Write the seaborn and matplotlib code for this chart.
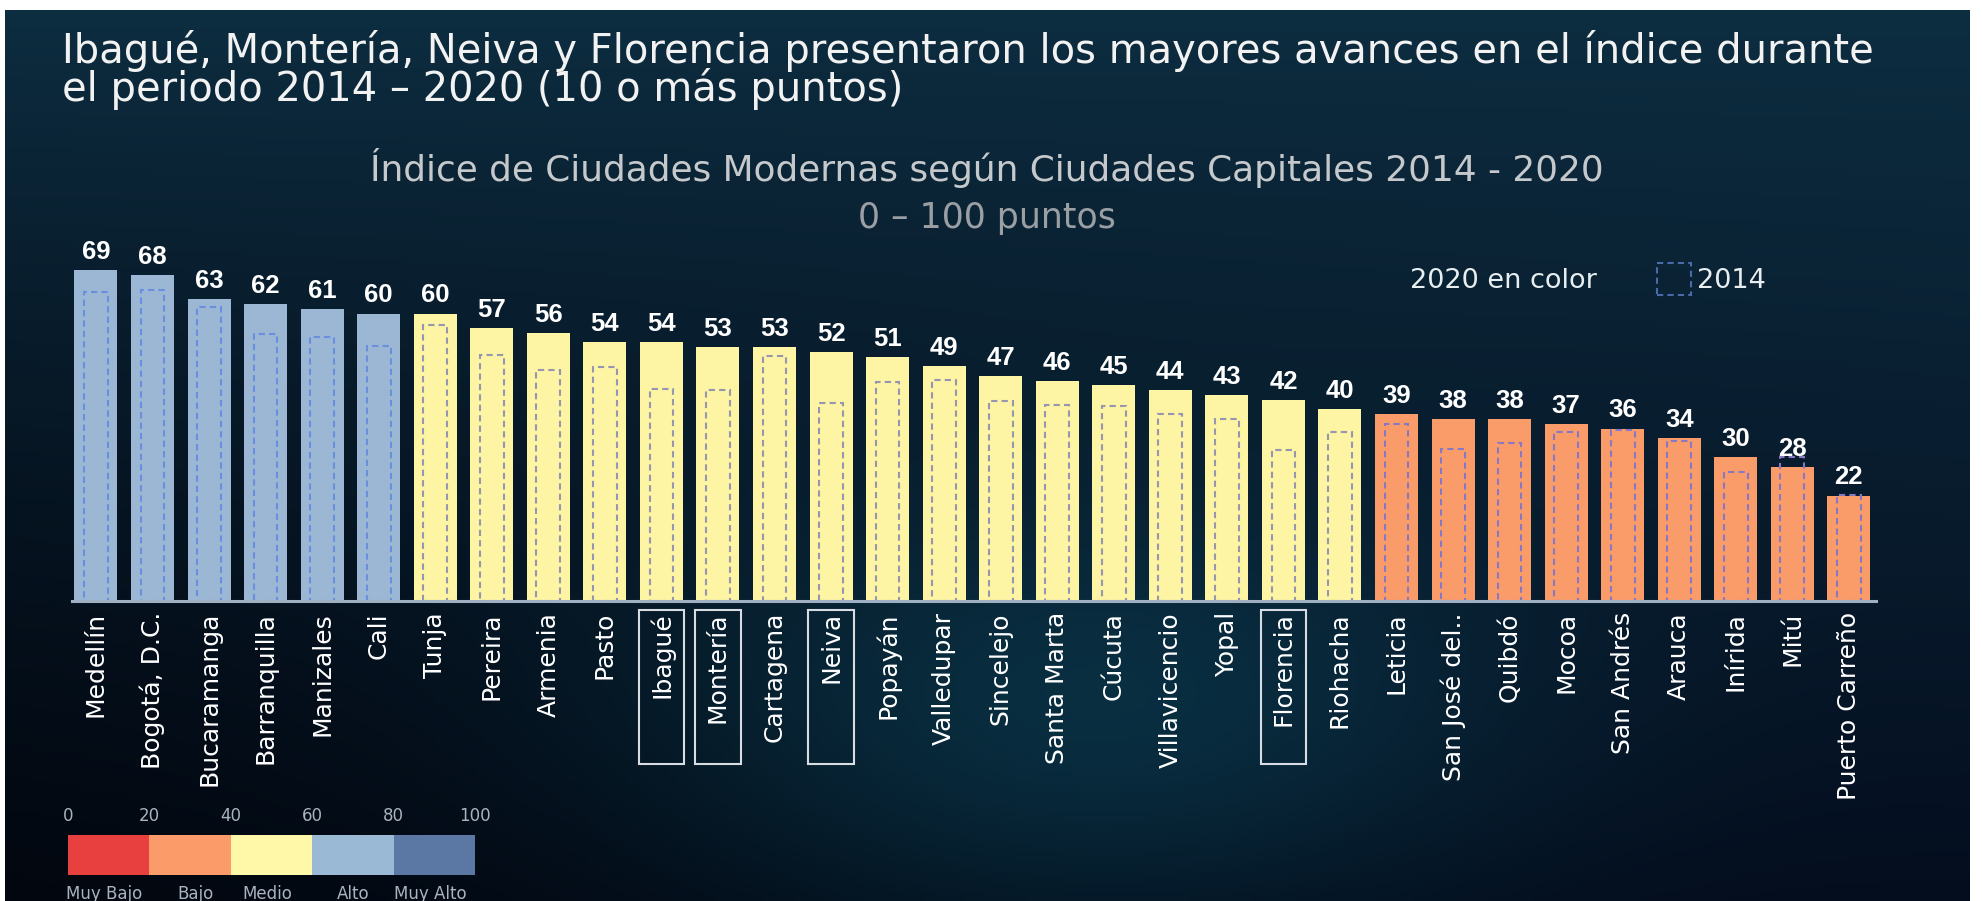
import numpy as np
import pandas as pd
import seaborn as sns
import matplotlib.pyplot as plt
from matplotlib.patches import Rectangle

# -------- data --------
cities = ['Medellín', 'Bogotá, D.C.', 'Bucaramanga', 'Barranquilla', 'Manizales', 'Cali',
          'Tunja', 'Pereira', 'Armenia', 'Pasto', 'Ibagué', 'Montería', 'Cartagena', 'Neiva',
          'Popayán', 'Valledupar', 'Sincelejo', 'Santa Marta', 'Cúcuta', 'Villavicencio',
          'Yopal', 'Florencia', 'Riohacha', 'Leticia', 'San José del..', 'Quibdó', 'Mocoa',
          'San Andrés', 'Arauca', 'Inírida', 'Mitú', 'Puerto Carreño']
v2020 = [69, 68, 63, 62, 61, 60, 60, 57, 56, 54, 54, 53, 53, 52, 51, 49, 47, 46, 45, 44,
         43, 42, 40, 39, 38, 38, 37, 36, 34, 30, 28, 22]
v2014 = [64.6, 65, 61.3, 55.8, 55.2, 53.3, 57.6, 51.4, 48.2, 48.9, 44.3, 44, 51.2, 41.3,
         45.7, 46.1, 41.7, 40.9, 40.6, 39, 38, 31.6, 35.3, 36.9, 31.7, 32.9, 35.3, 35.7,
         33.5, 27, 30.1, 22.2]
nivel = ['Alto'] * 6 + ['Medio'] * 17 + ['Bajo'] * 9
destacadas = ['Ibagué', 'Montería', 'Neiva', 'Florencia']

escala_limites = [0, 20, 40, 60, 80, 100]
escala_nombres = ['Muy Bajo', 'Bajo', 'Medio', 'Alto', 'Muy Alto']
escala_colores = ['#e8403f', '#fb9b69', '#fff8a8', '#9ab9d5', '#5b77a3']

df = pd.DataFrame({'ciudad': cities, 'v2020': v2020, 'v2014': v2014, 'nivel': nivel})

# -------- figure + background --------
W, H = 1983, 901
fig = plt.figure(figsize=(W / 100, H / 100), dpi=100, facecolor='white')

bg = fig.add_axes([5 / W, 0, 1965 / W, 891 / H])
yy, xx = np.mgrid[0:1:200j, 0:1:440j]
top = np.array([13, 45, 64]) / 255
bot = np.array([4, 13, 30]) / 255
img = top * (1 - yy)[..., None] + bot * yy[..., None]
img *= (1 - 0.5 * (1 - xx) * yy)[..., None]
glow = np.exp(-((xx - 0.55) ** 2 / 0.05 + (yy - 0.8) ** 2 / 0.06))
img += np.array([4, 30, 34])[None, None, :] / 255 * glow[..., None]
bg.imshow(np.clip(img, 0, 1), aspect='auto', extent=[0, 1, 0, 1])
bg.axis('off')

# -------- main bars --------
ax = fig.add_axes([72 / W, 300 / H, 1804 / W, 359.3 / H])
ax.set_facecolor('none')

pal = {'Alto': '#9cb7d4', 'Medio': '#fdf4a4', 'Bajo': '#f99c6a'}
sns.barplot(data=df, x='ciudad', y='v2020', hue='nivel', palette=pal, width=0.76,
            dodge=False, legend=False, saturation=1, errorbar=None, ax=ax)

# 2014 values as dashed outlines
pal_dash = {'Alto': '#6a8ee0', 'Medio': '#9696b0', 'Bajo': '#8878c4'}
sns.barplot(data=df, x='ciudad', y='v2014', hue='nivel', palette=pal_dash, width=0.42,
            dodge=False, legend=False, fill=False, saturation=1, errorbar=None,
            linestyle=(0, (3, 2)), linewidth=1.5, ax=ax)

for i, v in enumerate(v2020):
    ax.annotate(f'{v}', (i, v), xytext=(0, 8), textcoords='offset points',
                ha='center', va='baseline', color='white', fontsize=18.5,
                fontweight='bold', family='Liberation Sans')

ax.set_xlim(-0.424, 31.48)
ax.set_ylim(0, 75)
ax.set_xlabel('')
ax.set_ylabel('')
ax.set_yticks([])
for s in ['top', 'right', 'left']:
    ax.spines[s].set_visible(False)
ax.spines['bottom'].set_color('#9fb0c2')
ax.spines['bottom'].set_linewidth(2.2)
ax.tick_params(axis='x', length=0, pad=8, labelcolor='white', labelsize=18, rotation=90)
for lab in ax.get_xticklabels():
    lab.set_family('DejaVu Sans')

for i, c in enumerate(cities):
    if c in destacadas:
        ax.add_patch(Rectangle((i - 0.405, -1.9), 0.81, -32.2, fill=False,
                               edgecolor='#d8dde3', linewidth=1.5, clip_on=False))

# -------- titles --------
fig.text(62 / W, 1 - 63 / H,
         'Ibagué, Montería, Neiva y Florencia presentaron los mayores avances en el índice durante',
         color='#f2f2f2', fontsize=28.8, family='DejaVu Sans', va='baseline')
fig.text(62 / W, 1 - 101 / H, 'el periodo 2014 – 2020 (10 o más puntos)',
         color='#f2f2f2', fontsize=28.8, family='DejaVu Sans', va='baseline')
fig.text(987 / W, 1 - 181 / H,
         'Índice de Ciudades Modernas según Ciudades Capitales 2014 - 2020',
         color='#c6c9cc', fontsize=25.8, family='DejaVu Sans', ha='center', va='baseline')
fig.text(987 / W, 1 - 228 / H, '0 – 100 puntos', color='#9a9fa4', fontsize=25,
         family='DejaVu Sans', ha='center', va='baseline')

# legend top right
fig.text(1410 / W, 1 - 288 / H, '2020 en color', color='#e8eef0', fontsize=19.5,
         family='DejaVu Sans', va='baseline')
fig.patches.append(Rectangle((1657 / W, 1 - 295 / H), 34 / W, 32 / H, fill=False,
                             edgecolor='#4a6aa8', linewidth=1.5, linestyle=(0, (3, 2)),
                             transform=fig.transFigure, figure=fig))
fig.text(1697 / W, 1 - 288 / H, '2014', color='#e8eef0', fontsize=19.5,
         family='DejaVu Sans', va='baseline')

# -------- colour scale legend --------
lx = fig.add_axes([68 / W, 26 / H, 407 / W, 40 / H])
lx.set_facecolor('none')
for k in range(len(escala_nombres)):
    lo, hi = escala_limites[k], escala_limites[k + 1]
    lx.barh(0, hi - lo, left=lo, height=1, color=escala_colores[k], linewidth=0)
lx.set_xlim(0, 100)
lx.set_ylim(-0.5, 0.5)
lx.axis('off')
for b in escala_limites:
    lx.text(b, 0.75, str(b), color='#a9b4c0', fontsize=12, ha='center',
            va='bottom', family='DejaVu Sans')
name_x = [8.8, 31.4, 48.9, 70.0, 89.0]
for nx, nm in zip(name_x, escala_nombres):
    lx.text(nx, -0.75, nm, color='#a9b4c0', fontsize=12, ha='center', va='top',
            family='DejaVu Sans', clip_on=False)

fig.savefig('out.png', dpi=100, facecolor='white')
